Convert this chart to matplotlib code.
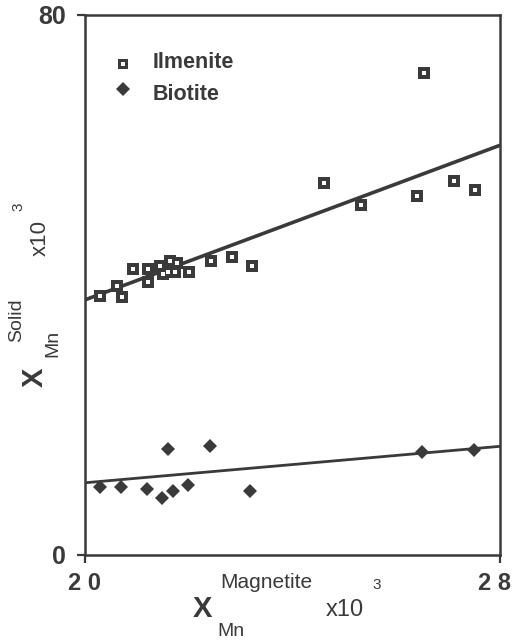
import numpy as np
import matplotlib
import matplotlib.pyplot as plt

matplotlib.use('Agg')

plt.rcParams['font.family'] = ['Liberation Sans', 'DejaVu Sans']

# ilmenite points (x = X_Mn magnetite x10^3, y = X_Mn solid x10^3)
ilm_x = [20.29, 20.62, 20.71, 20.92, 21.21, 21.21, 21.45, 21.50, 21.60, 21.64, 21.73,
         21.77, 22.00, 22.43, 22.83, 23.22, 24.60, 25.32, 26.40, 26.53, 27.11, 27.51]
ilm_y = [38.4, 39.9, 38.2, 42.4, 42.4, 40.4, 42.8, 41.6, 41.9, 43.6, 41.9,
         43.3, 41.9, 43.6, 44.1, 42.8, 55.1, 51.9, 53.2, 71.4, 55.4, 54.1]

# biotite points
bio_x = [20.29, 20.69, 21.19, 21.48, 21.60, 21.69, 21.98, 22.41, 23.18, 26.49, 27.50]
bio_y = [10.1, 10.1, 9.8, 8.4, 15.7, 9.5, 10.4, 16.1, 9.5, 15.3, 15.6]

# fitted lines, values at x = 20 and x = 28
fit_x = [20, 28]
ilm_fit = [37.8, 60.7]
bio_fit = [10.7, 16.1]

x_ticks = [20, 28]
x_ticklabels = ['2 0', '2 8']
y_ticks = [0, 80]
y_ticklabels = ['0', '80']

dark = '#3a3a3a'

fig = plt.figure(figsize=(5.14, 6.41), dpi=100)
ax = fig.add_axes([85 / 514, 1 - 555 / 641, 415 / 514, 540 / 641])

ax.plot(fit_x, ilm_fit, color=dark, linewidth=2.6, solid_capstyle='butt')
ax.plot(fit_x, bio_fit, color=dark, linewidth=2.0, solid_capstyle='butt')

# ilmenite: dark square with small white centre
ax.plot(ilm_x, ilm_y, 's', color=dark, markersize=8.3, markeredgewidth=0, zorder=3)
ax.plot(ilm_x, ilm_y, 's', color='white', markersize=2.3, markeredgewidth=0, zorder=4)
# biotite: diamonds
ax.plot(bio_x, bio_y, 'D', color=dark, markersize=7.5, markeredgewidth=0, zorder=3)

ax.set_xlim(20, 28)
ax.set_ylim(0, 80)
ax.set_xticks(x_ticks)
ax.set_xticklabels([])
ax.set_yticks(y_ticks)
ax.set_yticklabels(y_ticklabels, fontsize=18, fontweight='bold', color=dark)
ax.tick_params(axis='both', direction='out', length=6, width=1.6, color=dark)
ax.tick_params(axis='y', pad=8)
for s in ax.spines.values():
    s.set_linewidth(1.8)
    s.set_color(dark)


def fx(px):
    return px / 514


def fy(py):
    return 1 - py / 641


# x tick labels placed by hand (the right one would be cut otherwise)
fig.text(fx(84), fy(583), x_ticklabels[0], fontsize=17, fontweight='bold', color=dark,
         ha='center', va='center')
fig.text(fx(494), fy(583), x_ticklabels[1], fontsize=17, fontweight='bold', color=dark,
         ha='center', va='center')

# legend drawn by hand
fig.lines.append(plt.Line2D([fx(123)], [fy(64)], marker='s', color=dark, markersize=7.5,
                            markeredgewidth=0, transform=fig.transFigure))
fig.lines.append(plt.Line2D([fx(123)], [fy(64)], marker='s', color='white', markersize=2.2,
                            markeredgewidth=0, transform=fig.transFigure))
fig.lines.append(plt.Line2D([fx(123)], [fy(89)], marker='D', color=dark, markersize=7,
                            markeredgewidth=0, transform=fig.transFigure))
fig.text(fx(153), fy(63), 'Ilmenite', fontsize=15.5, fontweight='bold', color=dark, va='center')
fig.text(fx(153), fy(94), 'Biotite', fontsize=15.5, fontweight='bold', color=dark, va='center')

# x axis label
fig.text(fx(202), fy(609), 'X', fontsize=21, fontweight='bold', color=dark, ha='center', va='center')
fig.text(fx(220), fy(582), 'Magnetite', fontsize=15, color=dark, ha='left', va='center')
fig.text(fx(231), fy(632), 'Mn', fontsize=14, color=dark, ha='center', va='center')
fig.text(fx(345), fy(610), 'x10', fontsize=17, color=dark, ha='center', va='center')
fig.text(fx(377), fy(585), '3', fontsize=11, color=dark, ha='center', va='center')

# y axis label (rotated)
fig.text(fx(35), fy(377), 'X', fontsize=21, fontweight='bold', color=dark, ha='center', va='center', rotation=90)
fig.text(fx(17), fy(320), 'Solid', fontsize=14, color=dark, ha='center', va='center', rotation=90)
fig.text(fx(53), fy(343), 'Mn', fontsize=14, color=dark, ha='center', va='center', rotation=90)
fig.text(fx(40), fy(238), 'x10', fontsize=16, color=dark, ha='center', va='center', rotation=90)
fig.text(fx(18), fy(207), '3', fontsize=11, color=dark, ha='center', va='center', rotation=90)

fig.savefig('out.png', dpi=100)
